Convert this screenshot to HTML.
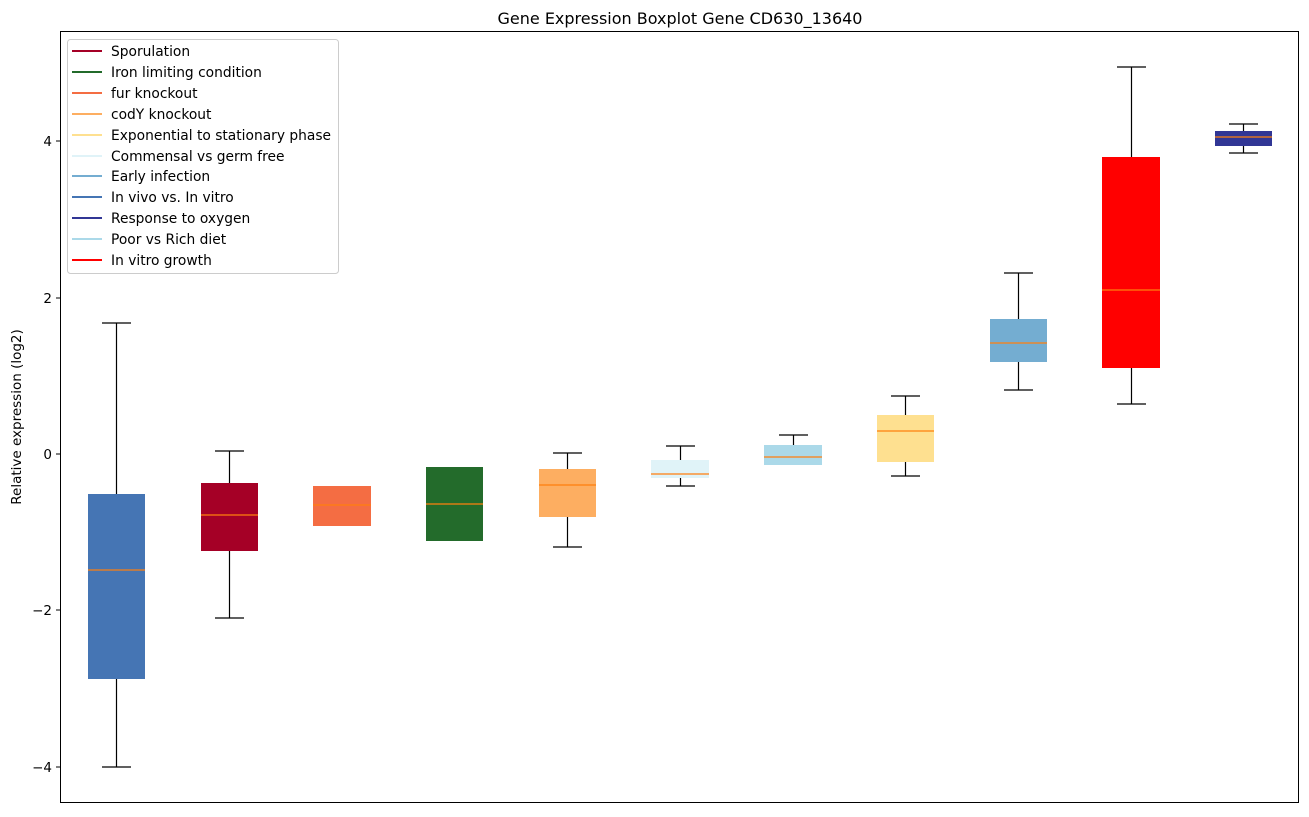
<!DOCTYPE html>
<html><head><meta charset="utf-8"><style>body{margin:0;background:#fff}</style></head><body>
<svg width="1309" height="812" xmlns="http://www.w3.org/2000/svg" font-family="DejaVu Sans, Liberation Sans, sans-serif">
<rect width="1309" height="812" fill="#fff"/>
<text x="680" y="24" font-size="16" text-anchor="middle" fill="#000">Gene Expression Boxplot Gene CD630_13640</text>
<g stroke="#000" stroke-width="1.2" fill="none">
<path d="M116.5 323V494M116.5 679V767M102 323h29M102 767h29"/>
<path d="M229.5 451V483M229.5 551V618M215 451h29M215 618h29"/>
<path d="M567.5 453V469M567.5 517V547M553 453h29M553 547h29"/>
<path d="M680.5 446V460M680.5 478V486M666 446h29M666 486h29"/>
<path d="M793.5 435V445M779 435h29"/>
<path d="M905.5 396V415M905.5 462V476M891 396h29M891 476h29"/>
<path d="M1018.5 273V319M1018.5 362V390M1004 273h29M1004 390h29"/>
<path d="M1131.5 67V157M1131.5 368V404M1117 67h29M1117 404h29"/>
<path d="M1243.5 124V131M1243.5 146V153M1229 124h29M1229 153h29"/>
</g>
<g>
<rect x="88" y="494" width="57" height="185" fill="#4575b4"/>
<rect x="201" y="483" width="57" height="68" fill="#a50026"/>
<rect x="313" y="486" width="58" height="40" fill="#f46d43"/>
<rect x="426" y="467" width="57" height="74" fill="#236b2b"/>
<rect x="539" y="469" width="57" height="48" fill="#fdae61"/>
<rect x="651" y="460" width="58" height="18" fill="#e0f3f8"/>
<rect x="764" y="445" width="58" height="20" fill="#abd9e9"/>
<rect x="877" y="415" width="57" height="47" fill="#fee090"/>
<rect x="990" y="319" width="57" height="43" fill="#74add1"/>
<rect x="1102" y="157" width="58" height="211" fill="#ff0000"/>
<rect x="1215" y="131" width="57" height="15" fill="#313695"/>
</g>
<g stroke="#ff7f0e" stroke-width="1.2">
<path d="M88 570h57M201 515h57M313 505h58M426 504h57M539 485h57M651 474h58M764 457h58M877 431h57M990 343h57M1102 290h58M1215 137h57"/>
</g>
<rect x="60.5" y="31.5" width="1238" height="771" fill="none" stroke="#000" stroke-width="1"/>
<g font-size="13.5" text-anchor="end" fill="#000">
<path d="M60 141h-4M60 298h-4M60 454h-4M60 610h-4M60 767h-4" stroke="#000"/>
<text x="52" y="146">4</text><text x="52" y="303">2</text><text x="52" y="459">0</text><text x="52" y="615">−2</text><text x="52" y="772">−4</text>
</g>
<text transform="translate(21,417) rotate(-90)" font-size="13.5" text-anchor="middle">Relative expression (log2)</text>
<rect x="67.5" y="39.5" width="271" height="234" rx="3" fill="#fff" stroke="#ccc"/>
<g font-size="13.8" fill="#000" stroke-width="2">
<line x1="72" y1="51" x2="102" y2="51" stroke="#a50026"/><text x="111" y="56">Sporulation</text>
<line x1="72" y1="72" x2="102" y2="72" stroke="#236b2b"/><text x="111" y="77">Iron limiting condition</text>
<line x1="72" y1="93" x2="102" y2="93" stroke="#f46d43"/><text x="111" y="98">fur knockout</text>
<line x1="72" y1="114" x2="102" y2="114" stroke="#fdae61"/><text x="111" y="119">codY knockout</text>
<line x1="72" y1="135" x2="102" y2="135" stroke="#fee090"/><text x="111" y="140">Exponential to stationary phase</text>
<line x1="72" y1="156" x2="102" y2="156" stroke="#e0f3f8"/><text x="111" y="161">Commensal vs germ free</text>
<line x1="72" y1="176" x2="102" y2="176" stroke="#74add1"/><text x="111" y="181">Early infection</text>
<line x1="72" y1="197" x2="102" y2="197" stroke="#4575b4"/><text x="111" y="202">In vivo vs. In vitro</text>
<line x1="72" y1="218" x2="102" y2="218" stroke="#313695"/><text x="111" y="223">Response to oxygen</text>
<line x1="72" y1="239" x2="102" y2="239" stroke="#abd9e9"/><text x="111" y="244">Poor vs Rich diet</text>
<line x1="72" y1="260" x2="102" y2="260" stroke="#ff0000"/><text x="111" y="265">In vitro growth</text>
</g>
</svg>
</body></html>
